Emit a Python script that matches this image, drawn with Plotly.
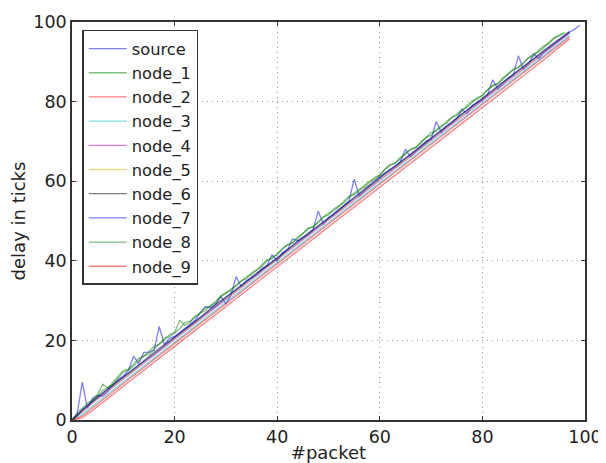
import plotly.graph_objects as go

# ---- data ----
source_packets = list(range(100))
source_delay = [0, 1.5, 9.5, 3.0, 5.5, 6.2, 6.0, 7.2, 8.8, 10.2,
                11.0, 12.5, 16.0, 14.2, 17.0, 17.0, 17.5, 23.5, 19.0, 20.5,
                21.0, 22.0, 22.8, 24.0, 25.0, 27.0, 28.5, 28.2, 29.0, 31.0,
                29.2, 31.5, 36.0, 33.5, 35.0, 35.8, 36.5, 38.0, 38.8, 41.5,
                40.0, 42.0, 42.8, 45.5, 45.0, 45.8, 46.5, 47.8, 52.5, 49.2,
                50.8, 51.5, 52.6, 53.8, 55.0, 60.5, 56.2, 57.5, 58.8, 59.6,
                60.8, 62.0, 62.8, 63.5, 64.8, 68.0, 66.2, 67.5, 68.8, 70.0,
                70.5, 75.0, 72.2, 73.8, 74.5, 75.6, 78.0, 77.0, 79.0, 79.8,
                80.5, 81.8, 85.5, 83.2, 84.5, 85.8, 86.6, 91.5, 88.2, 89.5,
                92.0, 90.8, 92.5, 93.5, 94.6, 95.5, 96.5, 97.5, 98.2, 99.2]

green_packets = list(range(97))
node_1 = [0, 1.0, 2.5, 3.5, 5.0, 6.5, 9.0, 8.0, 9.5, 11.0,
          12.5, 12.8, 14.0, 15.5, 16.0, 17.2, 18.5, 19.0, 20.0, 21.5,
          22.0, 25.0, 23.8, 24.5, 26.0, 26.8, 27.5, 28.8, 29.5, 31.0,
          31.8, 33.0, 33.8, 35.0, 35.5, 37.0, 37.8, 38.5, 40.0, 41.0,
          41.5, 43.0, 44.0, 44.5, 46.0, 46.8, 48.0, 48.5, 49.8, 51.0,
          51.5, 53.0, 53.8, 54.5, 56.0, 57.0, 58.0, 58.5, 59.8, 61.0,
          61.5, 63.0, 64.0, 64.5, 66.0, 66.8, 68.0, 68.5, 69.8, 71.0,
          71.5, 73.0, 74.0, 74.5, 76.0, 76.8, 78.0, 78.5, 79.8, 81.0,
          81.5, 83.0, 84.0, 84.5, 86.0, 86.8, 88.0, 88.5, 89.8, 91.0,
          91.5, 93.0, 94.0, 94.5, 96.0, 96.8, 97.3]
node_8 = [0, 1.8, 3.0, 4.2, 5.0, 6.0, 7.5, 8.2, 9.0, 10.5,
          12.0, 12.5, 13.5, 14.8, 16.2, 16.5, 17.8, 19.0, 20.5, 21.0,
          21.8, 23.0, 24.5, 24.8, 25.8, 27.0, 28.2, 28.6, 29.8, 31.2,
          32.0, 32.5, 33.8, 35.0, 36.0, 36.5, 37.6, 39.0, 40.2, 40.5,
          41.8, 43.0, 44.0, 44.6, 45.6, 47.0, 48.2, 48.5, 49.6, 51.0,
          52.0, 52.5, 53.6, 55.0, 56.2, 56.6, 57.6, 59.0, 60.0, 60.5,
          61.6, 63.0, 64.2, 64.6, 65.6, 67.0, 68.0, 68.5, 69.6, 71.0,
          72.2, 72.6, 73.6, 75.0, 76.0, 76.5, 77.6, 79.0, 80.2, 80.6,
          81.6, 83.0, 84.0, 84.5, 85.6, 87.0, 88.2, 88.6, 89.6, 91.0,
          92.0, 92.5, 93.6, 95.0, 96.0, 96.5, 97.3]

node_packets = [0, 2, 4, 8, 12, 16, 20, 24, 28, 32, 36, 40, 44, 48, 52,
                56, 60, 64, 68, 72, 76, 80, 84, 88, 92, 97]
node_2 = [0, 1.0, 3.0, 7.2, 11.2, 15.2, 19.2, 23.2, 27.2, 31.2, 35.2, 39.3, 43.2,
          47.2, 51.2, 55.3, 59.2, 63.2, 67.2, 71.2, 75.2, 79.3, 83.2, 87.2, 91.2, 96.3]
node_3 = [0, 1.4, 3.5, 7.6, 11.6, 15.6, 19.6, 23.6, 27.6, 31.6, 35.6, 39.6, 43.6,
          47.6, 51.6, 55.6, 59.6, 63.6, 67.6, 71.6, 75.6, 79.6, 83.6, 87.6, 91.6, 96.6]
node_4 = [0, 2.0, 4.3, 8.3, 12.4, 16.3, 20.3, 24.4, 28.3, 32.3, 36.4, 40.3, 44.3,
          48.4, 52.3, 56.3, 60.4, 64.3, 68.3, 72.4, 76.3, 80.3, 84.4, 88.3, 92.3, 97.2]
node_5 = [0, 2.2, 4.5, 8.5, 12.6, 16.5, 20.5, 24.6, 28.5, 32.5, 36.6, 40.5, 44.5,
          48.6, 52.5, 56.5, 60.6, 64.5, 68.5, 72.6, 76.5, 80.5, 84.6, 88.5, 92.5, 97.4]
node_6 = [0, 2.3, 4.8, 8.9, 12.7, 17.0, 20.8, 24.6, 29.1, 32.7, 36.9, 40.6, 45.0,
          48.8, 52.7, 57.0, 61.2, 64.7, 68.9, 72.8, 76.9, 80.8, 84.9, 88.7, 92.9, 97.6]
node_7 = [0, 2.6, 4.6, 8.7, 12.9, 16.6, 20.7, 24.9, 28.6, 32.9, 36.6, 40.8, 44.7,
          48.6, 52.9, 56.7, 60.8, 64.9, 68.6, 72.7, 76.9, 80.6, 84.7, 88.9, 92.6, 97.4]
node_9 = [0, 0.5, 2.4, 6.5, 10.5, 14.5, 18.5, 22.5, 26.5, 30.5, 34.5, 38.5, 42.5,
          46.5, 50.5, 54.5, 58.5, 62.5, 66.5, 70.5, 74.5, 78.5, 82.5, 86.5, 90.5, 95.8]

x_ticks = [0, 20, 40, 60, 80, 100]
y_ticks = [0, 20, 40, 60, 80, 100]

# ---- styling ----
series = [
    ("source", source_packets, source_delay, "rgba(0,0,255,0.5)"),
    ("node_1", green_packets, node_1, "rgba(0,128,0,0.5)"),
    ("node_2", node_packets, node_2, "rgba(255,0,0,0.5)"),
    ("node_3", node_packets, node_3, "rgba(0,191,191,0.5)"),
    ("node_4", node_packets, node_4, "rgba(191,0,191,0.5)"),
    ("node_5", node_packets, node_5, "rgba(191,191,0,0.5)"),
    ("node_6", node_packets, node_6, "rgba(0,0,0,0.5)"),
    ("node_7", node_packets, node_7, "rgba(0,0,255,0.5)"),
    ("node_8", green_packets, node_8, "rgba(0,128,0,0.5)"),
    ("node_9", node_packets, node_9, "rgba(255,0,0,0.5)"),
]

fig = go.Figure()
for name, xs, ys, col in series:
    fig.add_trace(go.Scatter(x=xs, y=ys, mode="lines", name=name,
                             legendgroup=name,
                             line=dict(color=col, width=1.3)))

axis_common = dict(
    showline=True, linecolor="#333333", linewidth=1.5, mirror="ticks",
    ticks="inside", ticklen=4, tickcolor="#333333",
    showgrid=True, gridcolor="rgba(0,0,0,0.4)", griddash="1px,4px", gridwidth=1,
    zeroline=False, automargin=False,
    tickfont=dict(size=17.5, color="#222222"),
)

# the page body adds an 8px offset; figure is sized so that the plot area
# lands where it is in the reference
fig.update_layout(
    width=598, height=455,
    margin=dict(l=64, r=21, t=14, b=43),
    paper_bgcolor="white", plot_bgcolor="white",
    font=dict(family="DejaVu Sans", size=17.5, color="#222222"),
    xaxis=dict(range=[0, 100], tickvals=x_ticks,
               title=dict(text="#packet", standoff=2, font=dict(size=18)),
               **axis_common),
    yaxis=dict(range=[0, 100], tickvals=y_ticks,
               title=dict(text="delay in ticks", standoff=8, font=dict(size=18)),
               **axis_common),
    legend=dict(x=0.02, y=0.98, xanchor="left", yanchor="top",
                bgcolor="white", bordercolor="#333333", borderwidth=1.5,
                itemwidth=38,
                font=dict(size=16.3, color="#222222"), tracegroupgap=0),
    showlegend=True,
)

fig.write_html("out.html")
